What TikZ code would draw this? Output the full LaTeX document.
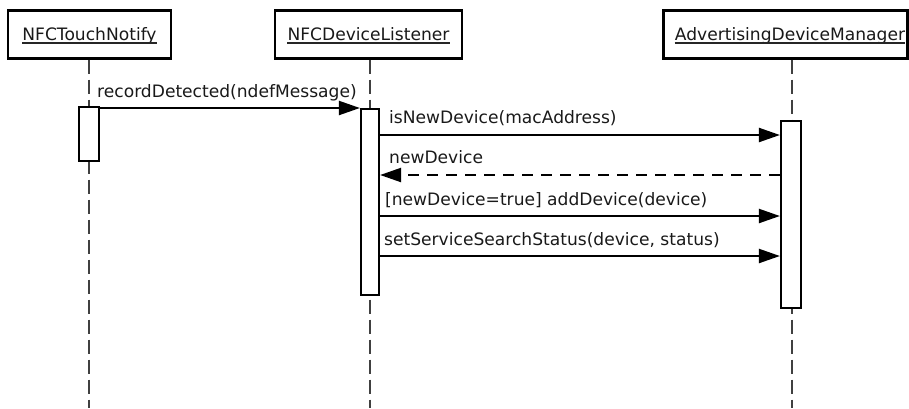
\documentclass[tikz,border=0pt]{standalone}
\usepackage{fontspec}
\setmainfont{DejaVu Sans}
\usetikzlibrary{arrows.meta}
\begin{document}
\begin{tikzpicture}[x=1pt,y=-1pt,
  every node/.style={font=\fontsize{17.1}{20}\selectfont, text=black!90},
  header/.style={draw, line width=2.2pt, minimum height=48pt, inner sep=0pt},
  lifeline/.style={draw=black!75, line width=1.3pt, dash pattern=on 14pt off 6pt},
  activation/.style={draw, fill=white, line width=2.2pt, inner sep=0pt},
  msg/.style={line width=2.2pt, -{Triangle[length=21pt,width=14pt]}},
  reply/.style={msg, dash pattern=on 11pt off 8pt},
  lbl/.style={anchor=base west, inner sep=0pt},
  uline/.style={line width=1.2pt, draw=black!85}]
\useasboundingbox (0,0) rectangle (909,408);

% object headers
\node[header, minimum width=163pt] (h1) at (89.5,34.5) {};
\node[header, minimum width=187pt] (h2) at (368.5,34.5) {};
\node[header, minimum width=244pt] (h3) at (785.5,34.5) {};
\node[inner sep=0pt, anchor=base] (t1) at (89.5,40) {NFCTouchNotify};
\node[inner sep=0pt, anchor=base] (t2) at (368.5,40) {NFCDeviceListener};
\node[inner sep=0pt, anchor=base] (t3) at (790,40) {AdvertisingDeviceManager};
\foreach \t in {t1,t2,t3}
  \draw[uline] ([yshift=-3pt]\t.base west) -- ([yshift=-3pt]\t.base east);

% lifelines
\coordinate (l1) at (89,408);
\coordinate (l2) at (370,408);
\coordinate (l3) at (792,408);
\draw[lifeline] (h1.south -| l1) -- (l1);
\draw[lifeline] (h2.south -| l2) -- (l2);
\draw[lifeline] (h3.south -| l3) -- (l3);

% activation bars
\node[activation, minimum width=20pt, minimum height=54pt] (a1) at (89,134) {};
\node[activation, minimum width=18pt, minimum height=186pt] (a2) at (370,202) {};
\node[activation, minimum width=20pt, minimum height=187pt] (a3) at (791,214.5) {};

% messages
\draw[msg] (a1.east |- 0,108) -- (a2.west |- 0,108);
\node[lbl] (m1) at (97,97) {recordDetected(ndefMessage)};

\draw[msg] (a2.east |- 0,135) -- (a3.west |- 0,135);
\node[lbl] (m2) at (389,123.5) {isNewDevice(macAddress)};

\draw[reply] (a3.west |- 0,175) -- (a2.east |- 0,175);
\node[lbl] (m3) at (389,163) {newDevice};

\draw[msg] (a2.east |- 0,216) -- (a3.west |- 0,216);
\node[lbl] (m4) at (385,205) {[newDevice=true] addDevice(device)};

\draw[msg] (a2.east |- 0,256) -- (a3.west |- 0,256);
\node[lbl] (m5) at (384,245.5) {setServiceSearchStatus(device, status)};
\end{tikzpicture}
\end{document}
